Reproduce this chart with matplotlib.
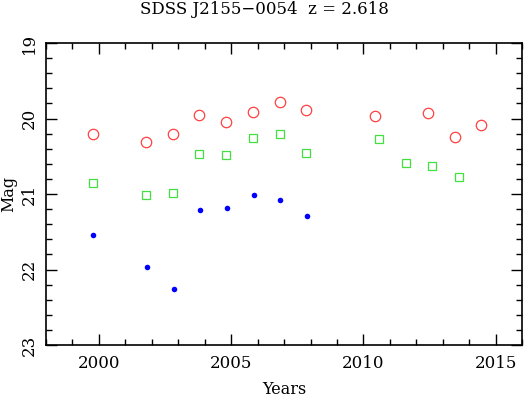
import matplotlib
matplotlib.use("Agg")
import matplotlib.pyplot as plt
from matplotlib.ticker import MultipleLocator

red_years = [1999.78, 2001.78, 2002.8, 2003.8, 2004.82, 2005.83, 2006.83, 2007.82, 2010.45, 2012.45, 2013.45, 2014.45]
red_mag = [20.20, 20.31, 20.21, 19.95, 20.04, 19.91, 19.78, 19.89, 19.97, 19.93, 20.25, 20.09]

green_years = [1999.78, 2001.78, 2002.8, 2003.8, 2004.82, 2005.83, 2006.83, 2007.82, 2010.6, 2011.6, 2012.6, 2013.6]
green_mag = [20.85, 21.01, 20.98, 20.47, 20.48, 20.26, 20.21, 20.46, 20.27, 20.59, 20.63, 20.78]

blue_years = [1999.78, 2001.8, 2002.82, 2003.83, 2004.85, 2005.86, 2006.86, 2007.87]
blue_mag = [21.54, 21.97, 22.26, 21.21, 21.18, 21.01, 21.08, 21.29]

xticks = [2000, 2005, 2010, 2015]
yticks = [19, 20, 21, 22, 23]

plt.rcParams['font.family'] = ['DejaVu Serif']
fig = plt.figure(figsize=(5.29, 3.98), dpi=100)
ax = fig.add_axes([0.087, 0.133, 0.9, 0.759])

ax.plot(red_years, red_mag, 'o', ms=7.5, mfc='none', mec='#ff4040', mew=0.9)
ax.plot(green_years, green_mag, 's', ms=6.3, mfc='none', mec='#40e040', mew=0.9)
ax.plot(blue_years, blue_mag, 'o', ms=4, mfc='#0000ff', mec='#0000ff', mew=0)

ax.set_xlim(1998, 2016)
ax.set_ylim(23, 19)
ax.set_xticks(xticks)
ax.set_yticks(yticks)
ax.xaxis.set_minor_locator(MultipleLocator(1))
ax.yaxis.set_minor_locator(MultipleLocator(0.2))
ax.tick_params(which='both', direction='in', top=True, right=True, labelsize=12, width=1)
ax.tick_params(axis='x', which='major', pad=7)
ax.tick_params(axis='y', which='major', pad=6)
ax.tick_params(which='major', length=8)
ax.tick_params(which='minor', length=4)
for lbl in ax.get_yticklabels():
    lbl.set_rotation(90)
    lbl.set_va('center')
for s in ax.spines.values():
    s.set_linewidth(1.2)

ax.set_xlabel('Years', fontsize=11.5, va='center')
ax.xaxis.set_label_coords(0.5, -0.148)
ax.set_ylabel('Mag', fontsize=11.5, va='center')
ax.yaxis.set_label_coords(-0.078, 0.5)
fig.suptitle('SDSS J2155\u22120054  z = 2.618', fontsize=12, y=0.997)

fig.savefig('out.png', dpi=100)
